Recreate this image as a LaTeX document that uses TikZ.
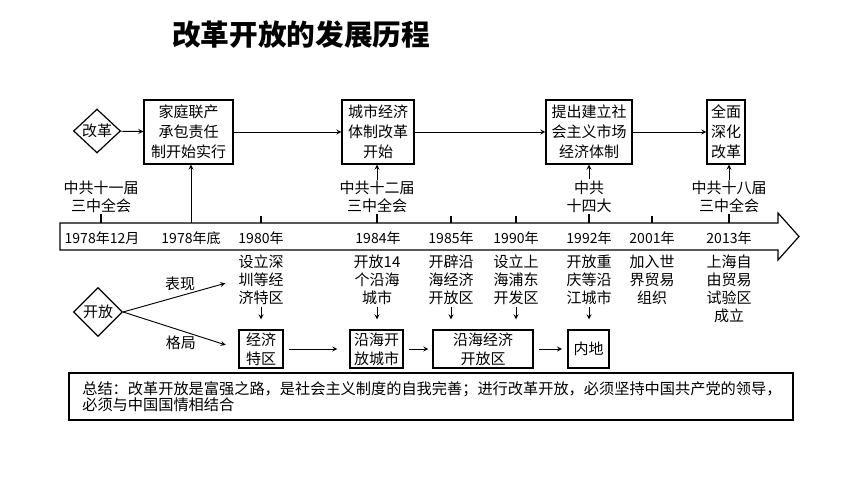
\documentclass[tikz,border=0pt]{standalone}
\usepackage{fontspec}
\setmainfont{Noto Sans CJK SC}
\usetikzlibrary{shapes.geometric, arrows, positioning}
\tikzstyle{arrow} = [line width=0.7pt,->,>=stealth]
\tikzstyle{bartick} = [line width=0.8pt]
\tikzstyle{eventbox} = [rectangle, draw=black, line width=0.9pt, minimum height=48pt, inner sep=1pt, align=center, font=\fontsize{11.25}{15}\selectfont]
\tikzstyle{zonebox} = [rectangle, draw=black, line width=0.9pt, minimum height=28.5pt, inner sep=1pt, align=center, font=\fontsize{11.25}{14}\selectfont]
\tikzstyle{choice} = [diamond, draw=black, line width=0.9pt, inner sep=0pt, align=center, font=\fontsize{11.25}{14}\selectfont]
\tikzstyle{eventtext} = [align=center, inner sep=1pt, font=\fontsize{11.25}{13.5}\selectfont]
\tikzstyle{yearlabel} = [inner sep=1pt, font=\fontsize{10.5}{13.5}\selectfont]
\tikzstyle{notebox} = [rectangle, draw=black, line width=0.9pt, minimum width=543pt, minimum height=35.25pt, inner xsep=10pt, text width=523pt, align=left, font=\fontsize{11.4}{12}\selectfont]

\begin{document}
\begin{tikzpicture}[x=0.75pt, y=-0.75pt]
\useasboundingbox (0,0) rectangle (860,484);
%----------------------------------------------------------------------------
% Title
\node (title) [font=\fontsize{21.5}{26}\selectfont\bfseries] at (301,35) {改革开放的发展历程};

%----------------------------------------------------------------------------
% Reform row
\node (reform) [choice, minimum width=35.25pt, minimum height=32.25pt] at (97,131) {改革};
\node (familyBox) [eventbox, minimum width=66.75pt] at (188.5,132) {家庭联产\\承包责任\\制开始实行};
\node (cityReform) [eventbox, minimum width=54pt] at (378,132) {城市经济\\体制改革\\开始};
\node (marketBox) [eventbox, minimum width=64.5pt] at (589,132) {提出建立社\\会主义市场\\经济体制};
\node (deepReform) [eventbox, minimum width=28.5pt] at (726,132) {全面\\深化\\改革};

\draw [arrow] (reform) -- (familyBox);
\draw [arrow] (familyBox) -- (cityReform);
\draw [arrow] (cityReform) -- (marketBox);
\draw [arrow] (marketBox) -- (deepReform);

% party meetings
\node (cpc11) [eventtext] at (101,197) {中共十一届\\三中全会};
\node (cpc12) [eventtext] at (377,197) {中共十二届\\三中全会};
\node (cpc14) [eventtext] at (589,197) {中共\\十四大};
\node (cpc18) [eventtext] at (729,197) {中共十八届\\三中全会};

\draw [arrow] (cpc12) -- (cpc12 |- cityReform.south);
\draw [arrow] (cpc14) -- (cpc14 |- marketBox.south);
\draw [arrow] (cpc18) -- (cpc18 |- deepReform.south);

%----------------------------------------------------------------------------
% Time axis
\coordinate (barTop) at (60,223);
\draw [line width=0.9pt] (60,223) -- (778,223) -- (778,213) -- (799,236.5) -- (778,260) -- (778,250) -- (60,250) -- cycle;

\node (y1978a) [yearlabel] at (102,238) {1978年12月};
\node (y1978b) [yearlabel] at (191,238) {1978年底};
\node (y1980) [yearlabel] at (261,238) {1980年};
\node (y1984) [yearlabel] at (378,238) {1984年};
\node (y1985) [yearlabel] at (451,238) {1985年};
\node (y1990) [yearlabel] at (516,238) {1990年};
\node (y1992) [yearlabel] at (589,238) {1992年};
\node (y2001) [yearlabel] at (652,238) {2001年};
\node (y2013) [yearlabel] at (729,238) {2013年};

\draw [bartick] (cpc11.south) -- (cpc11 |- barTop);
\draw [bartick] (y1980 |- barTop) -- ++(0,-7);
\draw [bartick] (cpc12.south) -- (cpc12 |- barTop);
\draw [bartick] (y1985 |- barTop) -- ++(0,-7);
\draw [bartick] (y1990 |- barTop) -- ++(0,-7);
\draw [bartick] (cpc14.south) -- (cpc14 |- barTop);
\draw [bartick] (y2001 |- barTop) -- ++(0,-7);
\draw [bartick] (cpc18.south) -- (cpc18 |- barTop);
\draw [arrow] (y1978b |- barTop) -- (y1978b |- familyBox.south);

%----------------------------------------------------------------------------
% Opening row
\node (txt1980) [eventtext] at (261,280) {设立深\\圳等经\\济特区};
\node (txt1984) [eventtext] at (377,280) {开放14\\个沿海\\城市};
\node (txt1985) [eventtext] at (451,280) {开辟沿\\海经济\\开放区};
\node (txt1990) [eventtext] at (516,280) {设立上\\海浦东\\开发区};
\node (txt1992) [eventtext] at (589,280) {开放重\\庆等沿\\江城市};
\node (txt2001) [eventtext] at (652,280) {加入世\\界贸易\\组织};
\node (txt2013) [eventtext] at (729,289) {上海自\\由贸易\\试验区\\成立};

\node (opening) [choice, minimum width=36.75pt, minimum height=36.75pt] at (98,312) {开放};
\node (econZone) [zonebox, minimum width=33pt] at (261,349) {经济\\特区};
\node (coastCity) [zonebox, minimum width=39.75pt] at (376.5,349) {沿海开\\放城市};
\node (coastZone) [zonebox, minimum width=75pt] at (483,349) {沿海经济\\开放区};
\node (inland) [zonebox, minimum width=30.75pt] at (588.5,349) {内地};

\draw [arrow, shorten >=9pt] (opening.east) -- node[above, font=\fontsize{11.25}{13.5}\selectfont] {表现} (txt1980.west);
\draw [arrow, shorten >=10pt] (opening.east) -- node[below, font=\fontsize{11.25}{13.5}\selectfont] {格局} (econZone.west);

\draw [arrow, shorten >=7.5pt] (txt1980.south) -- (txt1980.south |- econZone.north);
\draw [arrow, shorten >=7.5pt] (txt1984.south) -- (txt1984.south |- coastCity.north);
\draw [arrow, shorten >=7.5pt] (txt1985.south) -- (txt1985.south |- coastZone.north);
\draw [arrow, shorten >=7.5pt] (txt1990.south) -- (txt1990.south |- coastZone.north);
\draw [arrow, shorten >=7.5pt] (txt1992.south) -- (txt1992.south |- inland.north);

\draw [arrow, shorten <=4pt, shorten >=9pt] (econZone) -- (coastCity);
\draw [arrow, shorten <=4pt, shorten >=3pt] (coastCity) -- (coastZone);
\draw [arrow, shorten <=4pt, shorten >=4pt] (coastZone) -- (inland);

%----------------------------------------------------------------------------
% Summary
\node (summary) [notebox] at (431,396.5) {总结：改革开放是富强之路，是社会主义制度的自我完善；进行改革开放，必须坚持中国共产党的领导，\\必须与中国国情相结合};

\end{tikzpicture}
\end{document}
